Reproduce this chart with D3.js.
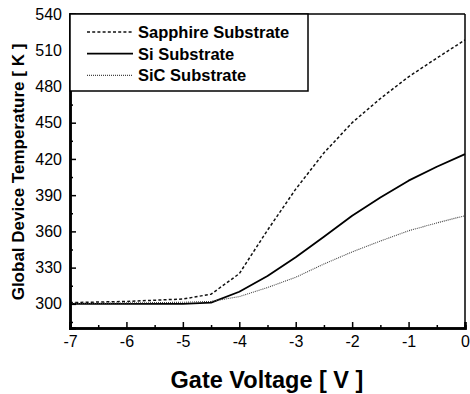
<!DOCTYPE html>
<html><head><meta charset="utf-8">
<script src="https://cdn.jsdelivr.net/npm/d3@7"></script>
<style>body{margin:0;background:#fff}svg{display:block}</style>
</head><body>
<svg id="c" width="470" height="394"></svg>
<script>
const voltage = [-7, -6.5, -6, -5.5, -5, -4.5, -4, -3.5, -3, -2.5, -2, -1.5, -1, -0.5, 0];
const sapphire = [301, 301.5, 302, 303, 304, 308, 325, 361, 395, 425, 450, 470, 488, 503.5, 518.5];
const si = [300, 300, 300, 300, 300, 301, 310, 323, 338.5, 355.5, 373, 388, 402, 413.5, 424];
const sic = [300.5, 300.5, 300.8, 301, 301.3, 302, 306, 313.5, 322, 333, 343, 352, 360.5, 367, 373];
const seriesNames = ["Sapphire Substrate", "Si Substrate", "SiC Substrate"];
const xTicks = [-7, -6, -5, -4, -3, -2, -1, 0];
const yTicks = [300, 330, 360, 390, 420, 450, 480, 510, 540];

const FONT = "Liberation Sans, Arial, Helvetica, sans-serif";
const svg = d3.select("#c");
const L = 70, R = 465, T = 14, B = 328;
const x = d3.scaleLinear().domain([-7, 0]).range([L, R]);
const y = d3.scaleLinear().domain([280, 540]).range([B, T]);

const styles = [
  {dash: "3,2.2", w: 1.5, c: "#111"},
  {dash: null, w: 1.8, c: "#000"},
  {dash: "1,1", w: 1.1, c: "#444"}
];
const data = [sapphire, si, sic];
const line = d3.line().x((d, i) => x(voltage[i])).y(d => y(d));

data.forEach((s, k) => {
  svg.append("path").datum(s).attr("d", line).attr("fill", "none")
    .attr("stroke", styles[k].c).attr("stroke-width", styles[k].w)
    .attr("stroke-linejoin", "round")
    .attr("stroke-dasharray", styles[k].dash);
});

// frame
svg.append("line").attr("x1", L).attr("x2", R).attr("y1", T).attr("y2", T).attr("stroke", "#000").attr("stroke-width", 1.5);
svg.append("line").attr("x1", R).attr("x2", R).attr("y1", T).attr("y2", B).attr("stroke", "#000").attr("stroke-width", 1.5);

// axes with inward ticks
const xAxis = svg.append("g").attr("transform", `translate(0,${B})`)
  .call(d3.axisBottom(x).tickValues(xTicks).tickSize(-6).tickPadding(8).tickFormat(d => String(d)));
const xMinor = svg.append("g").attr("transform", `translate(0,${B})`)
  .call(d3.axisBottom(x).tickValues(d3.range(-6.5, 0, 1)).tickSize(-3).tickFormat(""));
const yAxis = svg.append("g").attr("transform", `translate(${L},0)`)
  .call(d3.axisLeft(y).tickValues(yTicks).tickSize(-6).tickPadding(8));
const yMinor = svg.append("g").attr("transform", `translate(${L},0)`)
  .call(d3.axisLeft(y).tickValues([285, 315, 345, 375, 405, 435, 465, 495, 525]).tickSize(-3).tickFormat(""));
[xAxis, xMinor, yAxis, yMinor].forEach(g => {
  g.select(".domain").attr("stroke", "#000").attr("stroke-width", 2.5);
  g.selectAll(".tick line").attr("stroke", "#000").attr("stroke-width", 1.5);
  g.selectAll("text").attr("font-family", FONT).attr("font-size", 16).attr("fill", "#000");
});

svg.append("text").attr("x", 267).attr("y", 388).attr("text-anchor", "middle")
  .attr("font-family", FONT).attr("font-weight", "bold").attr("font-size", 23.5)
  .text("Gate Voltage [ V ]");
svg.append("text").attr("transform", "translate(24,172) rotate(-90)").attr("text-anchor", "middle")
  .attr("font-family", FONT).attr("font-weight", "bold").attr("font-size", 17)
  .text("Global Device Temperature [ K ]");

// legend
const lg = svg.append("g");
lg.append("rect").attr("x", L).attr("y", T).attr("width", 238).attr("height", 77)
  .attr("fill", "#fff").attr("stroke", "#000").attr("stroke-width", 1.5);
seriesNames.forEach((n, k) => {
  const yy = 32 + k * 21.7;
  lg.append("line").attr("x1", 87).attr("x2", 133).attr("y1", yy).attr("y2", yy)
    .attr("stroke", styles[k].c).attr("stroke-width", styles[k].w).attr("stroke-dasharray", styles[k].dash);
  lg.append("text").attr("x", 138).attr("y", yy + 6)
    .attr("font-family", FONT).attr("font-weight", "bold").attr("font-size", 16.5)
    .text(n);
});
</script>
</body></html>
